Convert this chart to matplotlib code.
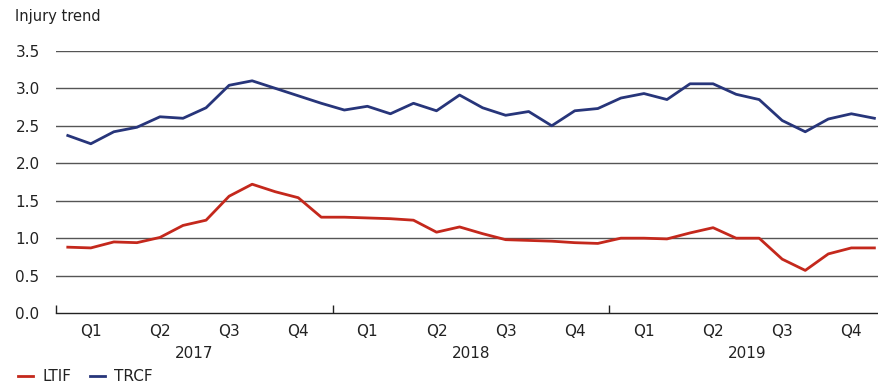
import numpy as np
import matplotlib
matplotlib.use("Agg")
import matplotlib.pyplot as plt
from matplotlib.transforms import blended_transform_factory

plt.rcParams["font.family"] = ["DejaVu Sans"]

# monthly values, Jan 2017 .. Dec 2019
ltif = [0.88, 0.87, 0.95, 0.94, 1.01, 1.17, 1.24, 1.56, 1.72, 1.62, 1.54, 1.28,
        1.28, 1.27, 1.26, 1.24, 1.08, 1.15, 1.06, 0.98, 0.97, 0.96, 0.94, 0.93,
        1.00, 1.00, 0.99, 1.07, 1.14, 1.00, 1.00, 0.72, 0.57, 0.79, 0.87, 0.87]
trcf = [2.37, 2.26, 2.42, 2.48, 2.62, 2.60, 2.74, 3.04, 3.10, 3.00, 2.90, 2.80,
        2.71, 2.76, 2.66, 2.80, 2.70, 2.91, 2.74, 2.64, 2.69, 2.50, 2.70, 2.73,
        2.87, 2.93, 2.85, 3.06, 3.06, 2.92, 2.85, 2.57, 2.42, 2.59, 2.66, 2.60]
years = ["2017", "2018", "2019"]
quarters = ["Q1", "Q2", "Q3", "Q4"]
yticks = [0.0, 0.5, 1.0, 1.5, 2.0, 2.5, 3.0, 3.5]

RED = "#c4281c"
NAVY = "#27357a"
TXT = "#222222"
FS = 11

fig = plt.figure(figsize=(8.79, 3.88), dpi=100)
ax = fig.add_axes([0.064, 0.193, 0.936, 0.676])

x = np.arange(len(ltif))
ax.plot(x, ltif, color=RED, lw=2.0, label="LTIF")
ax.plot(x, trcf, color=NAVY, lw=2.0, label="TRCF")

ax.set_xlim(-0.49, 35.2)
ax.set_ylim(0, 3.5)
ax.set_yticks(yticks)
ax.set_yticklabels([f"{v:.1f}" for v in yticks], fontsize=FS, color=TXT)
ax.tick_params(axis="y", length=0, pad=12)
for v in yticks[1:]:
    ax.axhline(v, color="#555555", lw=1.0, zorder=0)

for s in ["top", "right", "left"]:
    ax.spines[s].set_visible(False)
ax.spines["bottom"].set_color(TXT)
ax.spines["bottom"].set_linewidth(1.0)

qpos = [1 + 3 * k for k in range(12)]
ax.set_xticks(qpos)
ax.set_xticklabels(quarters * 3, fontsize=FS, color=TXT)
ax.tick_params(axis="x", which="major", length=0, pad=8)
ax.set_xticks([-0.5, 11.5, 23.5], minor=True)
ax.tick_params(axis="x", which="minor", direction="in", length=6, width=1, color=TXT)

tr = blended_transform_factory(ax.transData, fig.transFigure)
for k, yr in enumerate(years):
    ax.text(5.5 + 12 * k, 1 - 354 / 388, yr, transform=tr, ha="center", va="center",
            fontsize=FS, color=TXT)

fig.text(15 / 879, 1 - 17 / 388, "Injury trend", ha="left", va="center",
         fontsize=10.5, color=TXT)

fig.legend(loc="lower left", bbox_to_anchor=(0.005, -0.025), ncol=2, frameon=False,
           handlelength=1.0, handletextpad=0.6, columnspacing=1.2, fontsize=FS,
           labelcolor=TXT)

fig.savefig("out.png", dpi=100)
